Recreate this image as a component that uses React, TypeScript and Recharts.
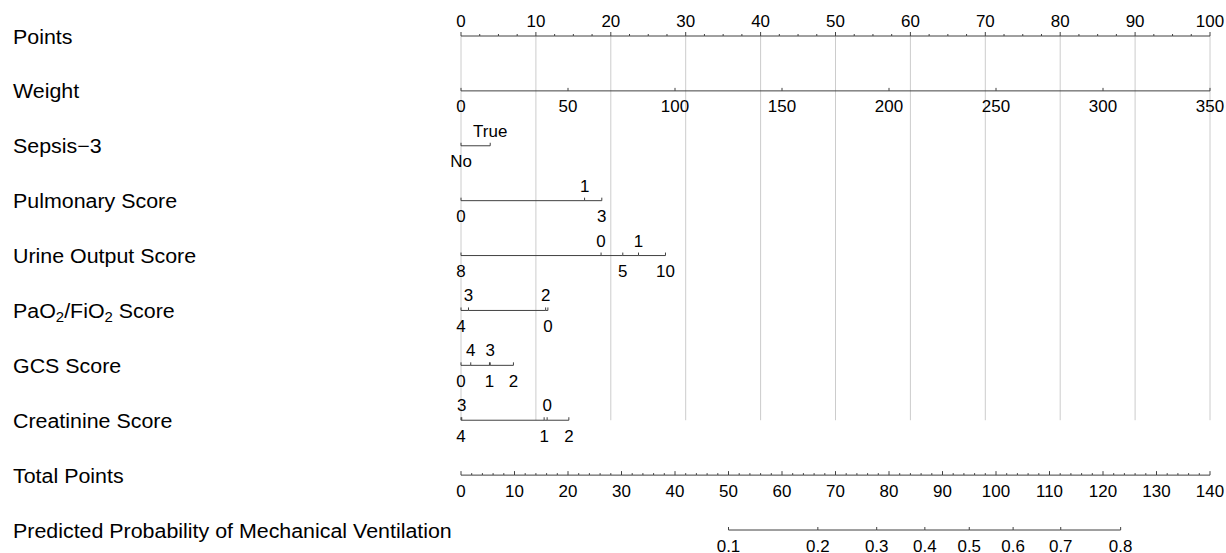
import { ScatterChart, Scatter, XAxis, YAxis, ReferenceLine } from 'recharts';

const rowNames = [
  'Points',
  'Weight',
  'Sepsis\u22123',
  'Pulmonary Score',
  'Urine Output Score',
  'PaO2/FiO2 Score',
  'GCS Score',
  'Creatinine Score',
  'Total Points',
  'Predicted Probability of Mechanical Ventilation',
];

const pointsMajor = [0, 10, 20, 30, 40, 50, 60, 70, 80, 90, 100];
const pointsMinorStep = 2.5;
const weightTicks = [0, 50, 100, 150, 200, 250, 300, 350];
const totalMajor = [0, 10, 20, 30, 40, 50, 60, 70, 80, 90, 100, 110, 120, 130, 140];
const totalMinorStep = 2;
const probLabels = ['0.1', '0.2', '0.3', '0.4', '0.5', '0.6', '0.7', '0.8'];
const probAtTotal = [50, 66.7, 77.7, 86.7, 95.0, 103.2, 112.1, 123.3];

const sepsisLevels = ['No', 'True'];
const sepsisPoints = [0, 3.9];
const sepsisSide = ['below', 'above'];

const pulmonaryLevels = ['0', '1', '3'];
const pulmonaryPoints = [0, 16.5, 18.8];
const pulmonarySide = ['below', 'above', 'below'];

const urineLevels = ['8', '0', '5', '1', '10'];
const urinePoints = [0, 18.7, 21.6, 23.7, 27.3];
const urineSide = ['below', 'above', 'below', 'above', 'below'];

const pfLevels = ['4', '3', '2', '0'];
const pfPoints = [0, 1.0, 11.3, 11.6];
const pfSide = ['below', 'above', 'above', 'below'];

const gcsLevels = ['0', '4', '1', '3', '2'];
const gcsPoints = [0, 1.3, 3.8, 3.9, 7.0];
const gcsSide = ['below', 'above', 'below', 'above', 'below'];

const creatLevels = ['4', '3', '1', '0', '2'];
const creatPoints = [0, 0.1, 11.1, 11.5, 14.4];
const creatSide = ['below', 'above', 'below', 'above', 'below'];

const FONT = '"Liberation Sans", Arial, Helvetica, sans-serif';
const AXIS = '#404040';

type Pt = { x: number; y: number; label: string; side: string; major: boolean };

const makeRow = (row: number, levels: string[], pts: number[], sides: string[]): Pt[] =>
  levels
    .map((label, i) => ({ x: pts[i], y: row, label, side: sides[i], major: true }))
    .sort((a, b) => a.x - b.x);

const makeScale = (row: number, max: number, step: number, major: number[], side: string): Pt[] => {
  const out: Pt[] = [];
  for (let i = 0; i * step <= max + 1e-9; i++) {
    const v = +(i * step).toFixed(3);
    const isMajor = major.includes(v);
    out.push({ x: v, y: row, label: isMajor ? String(v) : '', side, major: isMajor });
  }
  return out;
};

const pointsRow = makeScale(0, 100, pointsMinorStep, pointsMajor, 'above');
const weightRow = makeRow(1, weightTicks.map(String), weightTicks, weightTicks.map(() => 'below'));
const sepsisRow = makeRow(2, sepsisLevels, sepsisPoints, sepsisSide);
const pulmonaryRow = makeRow(3, pulmonaryLevels, pulmonaryPoints, pulmonarySide);
const urineRow = makeRow(4, urineLevels, urinePoints, urineSide);
const pfRow = makeRow(5, pfLevels, pfPoints, pfSide);
const gcsRow = makeRow(6, gcsLevels, gcsPoints, gcsSide);
const creatRow = makeRow(7, creatLevels, creatPoints, creatSide);
const totalRow = makeScale(8, 140, totalMinorStep, totalMajor, 'below');
const probRow = makeRow(9, probLabels, probAtTotal, probLabels.map(() => 'below'));

const tickShape = (majorLen: number, minorLen: number) => (props: any) => {
  const { cx, cy, payload } = props;
  const len = payload.major ? majorLen : minorLen;
  const ty = payload.side === 'above' ? cy - 9 : cy + 21.5;
  return (
    <g>
      {len > 0 && <line x1={cx} y1={cy} x2={cx} y2={cy - len} stroke={AXIS} strokeWidth={1} />}
      {payload.label && (
        <text
          transform={`translate(${cx},${ty}) scale(1.06,1)`}
          textAnchor="middle"
          fontSize={16}
          fontFamily={FONT}
          fill="#000"
        >
          {payload.label}
        </text>
      )}
    </g>
  );
};

// split "O2" into O + subscript 2, restoring the baseline on the next run of text
const RowLabel = (props: any) => {
  const { y, payload } = props;
  const name: string = rowNames[payload.value] ?? '';
  const parts = name.split(/O2/);
  const spans: any[] = [];
  parts.forEach((p, i) => {
    spans.push(
      <tspan key={`t${i}`} dy={i > 0 ? -4 : 0}>
        {i > 0 ? p : p}
      </tspan>,
    );
    if (i < parts.length - 1) {
      spans.push(<tspan key={`o${i}`}>O</tspan>);
      spans.push(
        <tspan key={`s${i}`} fontSize={14} dy={4}>
          2
        </tspan>,
      );
    }
  });
  return (
    <text
      transform={`translate(13,${y + 7.5}) scale(1.07,1)`}
      textAnchor="start"
      fontSize={20}
      fontFamily={FONT}
      fill="#000"
    >
      {spans}
    </text>
  );
};

const lineStyle = { stroke: AXIS, strokeWidth: 1 };

export default function App() {
  return (
    <div style={{ position: 'absolute', left: 0, top: 0 }}>
      <ScatterChart width={1226} height={553} margin={{ top: 36, right: 16, bottom: 23, left: 0 }}>
        <XAxis xAxisId="pts" type="number" dataKey="x" domain={[0, 100]} hide />
        <XAxis xAxisId="weight" type="number" dataKey="x" domain={[0, 350]} hide />
        <XAxis xAxisId="total" type="number" dataKey="x" domain={[0, 140]} hide />
        <YAxis
          yAxisId="row"
          type="number"
          dataKey="y"
          domain={[0, 9]}
          reversed
          ticks={[0, 1, 2, 3, 4, 5, 6, 7, 8, 9]}
          interval={0}
          width={461}
          axisLine={false}
          tickLine={false}
          tick={(p: any) => <RowLabel {...p} />}
        />
        {pointsMajor.map((v) => (
          <ReferenceLine
            key={`grid-${v}`}
            xAxisId="pts"
            yAxisId="row"
            segment={[{ x: v, y: 0 }, { x: v, y: 7 }]}
            stroke="#cccccc"
            strokeWidth={1}
          />
        ))}
        <Scatter key="s-points" xAxisId="pts" yAxisId="row" data={pointsRow} line={lineStyle} shape={tickShape(4, 2)} isAnimationActive={false} />
        <Scatter key="s-weight" xAxisId="weight" yAxisId="row" data={weightRow} line={lineStyle} shape={tickShape(3, 3)} isAnimationActive={false} />
        <Scatter key="s-sepsis" xAxisId="pts" yAxisId="row" data={sepsisRow} line={lineStyle} shape={tickShape(3, 3)} isAnimationActive={false} />
        <Scatter key="s-pulm" xAxisId="pts" yAxisId="row" data={pulmonaryRow} line={lineStyle} shape={tickShape(3, 3)} isAnimationActive={false} />
        <Scatter key="s-urine" xAxisId="pts" yAxisId="row" data={urineRow} line={lineStyle} shape={tickShape(3, 3)} isAnimationActive={false} />
        <Scatter key="s-pf" xAxisId="pts" yAxisId="row" data={pfRow} line={lineStyle} shape={tickShape(3, 3)} isAnimationActive={false} />
        <Scatter key="s-gcs" xAxisId="pts" yAxisId="row" data={gcsRow} line={lineStyle} shape={tickShape(3, 3)} isAnimationActive={false} />
        <Scatter key="s-creat" xAxisId="pts" yAxisId="row" data={creatRow} line={lineStyle} shape={tickShape(3, 3)} isAnimationActive={false} />
        <Scatter key="s-total" xAxisId="total" yAxisId="row" data={totalRow} line={lineStyle} shape={tickShape(4, 2)} isAnimationActive={false} />
        <Scatter key="s-prob" xAxisId="total" yAxisId="row" data={probRow} line={lineStyle} shape={tickShape(3, 3)} isAnimationActive={false} />
      </ScatterChart>
    </div>
  );
}
